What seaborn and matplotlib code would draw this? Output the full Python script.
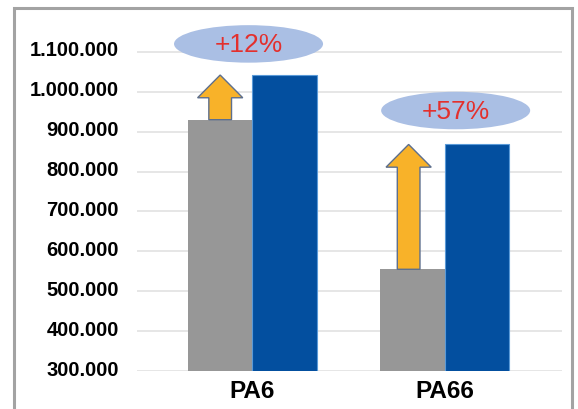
import matplotlib
matplotlib.use("Agg")
import matplotlib.pyplot as plt
import matplotlib.transforms as mtransforms
from matplotlib.patches import Ellipse, FancyArrow, Rectangle
import pandas as pd
import seaborn as sns

# datos
polimeros = ["PA6", "PA66"]
periodos = ["actual", "futuro"]
valores_actual = [930000, 555000]
valores_futuro = [1042000, 868000]
etiquetas_pct = ["+12%", "+57%"]
ticks_y = [300000, 400000, 500000, 600000, 700000, 800000, 900000, 1000000, 1100000]

GRIS = "#979797"
AZUL = "#034f9f"
NARANJA = "#f8b229"
ELIPSE = "#aabfe4"
ROJO = "#e3302d"

sns.set_theme(style="white")
plt.rcParams["font.family"] = ["Liberation Sans", "DejaVu Sans"]

df = pd.DataFrame({
    "polimero": polimeros * 2,
    "periodo": [periodos[0]] * 2 + [periodos[1]] * 2,
    "valor": valores_actual + valores_futuro,
})

fig = plt.figure(figsize=(5.78, 4.10), dpi=100)
ax = fig.add_axes([137 / 578, 1 - 372 / 410, (562 - 137) / 578, (372 - 13) / 410])

sns.barplot(data=df, x="polimero", y="valor", hue="periodo", order=polimeros,
            hue_order=periodos, palette=[GRIS, AZUL], saturation=1, width=0.67,
            ax=ax, legend=False, zorder=2)
for p in ax.patches:
    if p.get_facecolor()[2] > 0.5 and p.get_facecolor()[0] < 0.2:
        p.set_edgecolor("#5a9ad8")
        p.set_linewidth(0.8)
    else:
        p.set_linewidth(0)

ax.set_ylim(300000, 1200000)
ax.set_xlim(-0.6, 1.61)
ax.set_yticks(ticks_y)
ax.set_yticklabels([f"{v:,}".replace(",", ".") for v in ticks_y],
                   fontsize=14.5, fontweight="bold", color="black")
ax.tick_params(axis="y", length=0, pad=13)
ax.tick_params(axis="x", length=0, pad=6)
# las etiquetas del eje y quedan un poco por encima de la linea
desplaza = mtransforms.ScaledTranslation(0, 4 / 100, fig.dpi_scale_trans)
for lab in ax.get_yticklabels():
    lab.set_transform(lab.get_transform() + desplaza)
for lab in ax.get_xticklabels():
    lab.set_fontsize(17.5)
    lab.set_fontweight("bold")
    lab.set_color("black")
ax.set_xlabel("")
ax.set_ylabel("")
ax.yaxis.grid(True, color="#e4e4e4", linewidth=1.3, zorder=0)
ax.set_axisbelow(True)
for s in ax.spines.values():
    s.set_visible(False)

# flechas y elipses con el porcentaje
ancho_barra = 0.67 / 2
for i, (a, b, txt) in enumerate(zip(valores_actual, valores_futuro, etiquetas_pct)):
    cx = i - ancho_barra / 2 - (0.02 if i == 1 else 0)
    flecha = FancyArrow(cx, a, 0, b - a, width=0.118, head_width=0.235,
                        head_length=57000, length_includes_head=True,
                        facecolor=NARANJA, edgecolor="#5d6f8e", linewidth=1.0,
                        zorder=4)
    ax.add_patch(flecha)
    ey = b + (78000 if i == 0 else 85000)
    ex = i + (-0.02 if i == 0 else 0.057)
    ax.add_patch(Ellipse((ex, ey), 0.775, 94000, facecolor=ELIPSE,
                         edgecolor="none", zorder=3, clip_on=False))
    ax.text(ex, ey, txt, color=ROJO, fontsize=19, ha="center", va="center",
            zorder=5)

# marco gris exterior
fig.patches.append(Rectangle((14 / 578, -0.02), (572 - 14) / 578, 1 - 9 / 410 + 0.02,
                             transform=fig.transFigure, fill=False,
                             edgecolor="#a3a3a3", linewidth=2.2))

fig.savefig("out.png", dpi=100)
